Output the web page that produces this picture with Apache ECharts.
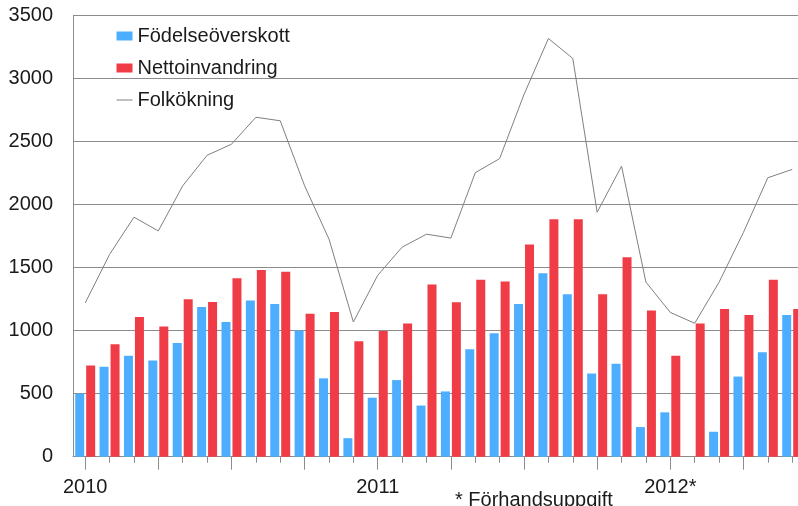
<!DOCTYPE html>
<html>
<head>
<meta charset="utf-8">
<script src="https://cdn.jsdelivr.net/npm/echarts@6/dist/echarts.min.js"></script>
<style>
html,body{margin:0;padding:0;background:#fff;}
#chart{width:798px;height:506px;}
</style>
</head>
<body>
<div id="chart"></div>
<script>
var categories = [
  '2010-01','2010-02','2010-03','2010-04','2010-05','2010-06',
  '2010-07','2010-08','2010-09','2010-10','2010-11','2010-12',
  '2011-01','2011-02','2011-03','2011-04','2011-05','2011-06',
  '2011-07','2011-08','2011-09','2011-10','2011-11','2011-12',
  '2012-01','2012-02','2012-03','2012-04','2012-05','2012-06'
];
var fodelseoverskott = [
  500, 713, 801, 764, 902, 1188, 1070, 1239, 1212, 1001, 622, 147,
  468, 608, 406, 518, 852, 980, 1212, 1455, 1289, 660, 737, 235,
  352, 0, 198, 636, 828, 1124
];
var nettoinvandring = [
  724, 892, 1108, 1033, 1249, 1228, 1417, 1481, 1468, 1134, 1148, 916,
  998, 1057, 1367, 1225, 1404, 1391, 1684, 1885, 1885, 1289, 1583, 1161,
  801, 1057, 1172, 1124, 1404, 1172
];
var folkokning = [
  1220, 1605, 1901, 1792, 2150, 2392, 2480, 2694, 2666, 2150, 1727, 1069,
  1440, 1663, 1766, 1735, 2254, 2366, 2875, 3319, 3161, 1940, 2306, 1386,
  1145, 1059, 1385, 1780, 2214, 2280
];
var yearLabelIndex = [0, 12, 24];
var yearLabels = ['2010', '2011', '2012*'];
var seriesNames = ['Födelseöverskott', 'Nettoinvandring', 'Folkökning'];
var footnote = '* Förhandsuppgift';

var FONT = 'Liberation Sans, Arial, sans-serif';
var chart = echarts.init(document.getElementById('chart'), null, {renderer: 'canvas'});
chart.setOption({
  animation: false,
  backgroundColor: '#ffffff',
  textStyle: {fontFamily: FONT},
  grid: {left: 73, right: -6.4, top: 15.7, bottom: 49.3, containLabel: false, outerBoundsMode: 'none'},
  legend: {
    left: 111, top: 21, orient: 'vertical',
    itemWidth: 16, itemHeight: 9, itemGap: 12,
    textStyle: {fontFamily: FONT, fontSize: 20, color: '#1a1a1a'},
    data: [
      {name: seriesNames[0], icon: 'rect'},
      {name: seriesNames[1], icon: 'rect'},
      {name: seriesNames[2], itemStyle: {opacity: 0, color: 'transparent', borderWidth: 0},
        lineStyle: {color: '#808080', width: 1, opacity: 1}}
    ]
  },
  xAxis: [
    {
      type: 'category', data: categories, boundaryGap: true,
      axisLine: {show: true, lineStyle: {color: '#8c8c8c', width: 1}},
      axisTick: {show: true, alignWithLabel: true, length: 6, interval: 0, lineStyle: {color: '#8c8c8c'}},
      axisLabel: {
        show: true, fontFamily: FONT, fontSize: 20, color: '#1a1a1a', margin: 21,
        interval: function (i) { return yearLabelIndex.indexOf(i) >= 0; },
        formatter: function (v, i) { var k = yearLabelIndex.indexOf(i); return k >= 0 ? yearLabels[k] : ''; }
      },
      splitLine: {show: false}
    },
    {
      type: 'category', data: categories, boundaryGap: true, position: 'bottom',
      axisLine: {show: false},
      axisTick: {show: true, alignWithLabel: true, length: 13,
        interval: function (i) { return i % 3 === 0; }, lineStyle: {color: '#8c8c8c'}},
      axisLabel: {show: false},
      splitLine: {show: false}
    }
  ],
  yAxis: {
    type: 'value', min: 0, max: 3500, interval: 500,
    axisLine: {show: true, lineStyle: {color: '#8c8c8c', width: 1}},
    axisTick: {show: false},
    axisLabel: {fontFamily: FONT, fontSize: 20, color: '#1a1a1a', margin: 20,
      formatter: function (v) { return String(v); }},
    splitLine: {show: true, lineStyle: {color: '#8c8c8c', width: 1}}
  },
  series: [
    {
      name: seriesNames[0], type: 'bar', data: fodelseoverskott,
      barWidth: 9, barGap: '22%',
      itemStyle: {color: '#4daeff'}
    },
    {
      name: seriesNames[1], type: 'bar', data: nettoinvandring,
      barWidth: 9,
      itemStyle: {color: '#f03c46'}
    },
    {
      name: seriesNames[2], type: 'line', data: folkokning, z: 5,
      symbol: 'none', showSymbol: false,
      lineStyle: {color: '#808080', width: 1},
      itemStyle: {color: '#808080'}
    }
  ],
  graphic: [
    {type: 'text', left: 455, top: 490, z: 10,
      style: {text: footnote, fontFamily: FONT, fontSize: 20, fill: '#1a1a1a'}}
  ]
});
</script>
</body>
</html>
